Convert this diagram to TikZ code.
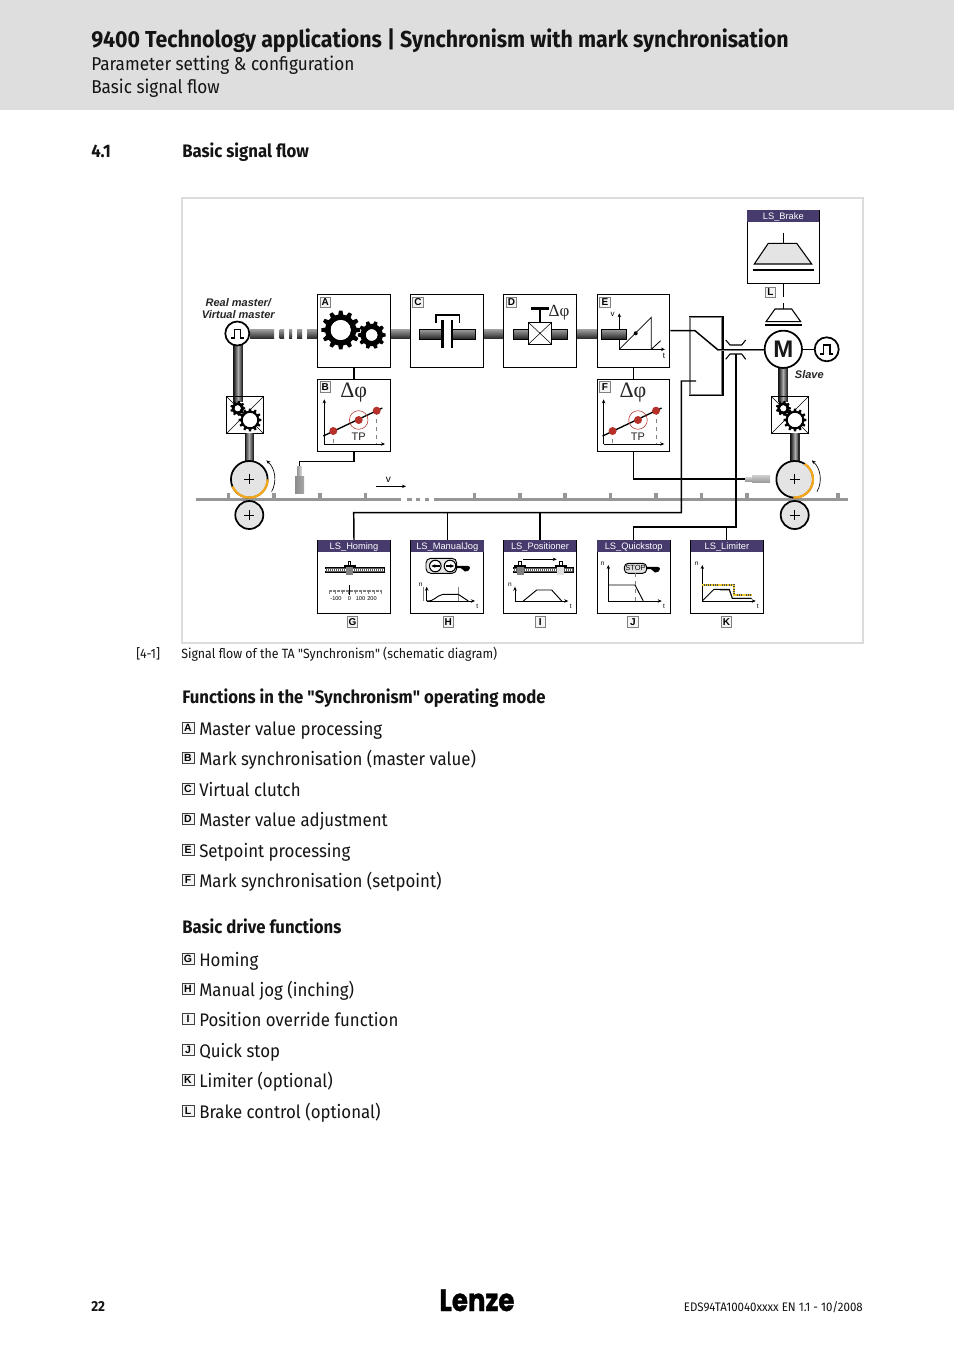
\documentclass[tikz,border=0pt]{standalone}
\usepackage{fontspec}
\setmainfont{Fira Sans}[FakeStretch=0.925]
\newfontfamily\qfont{Fira Sans}[FakeStretch=0.925]
\newfontfamily\arialf{Liberation Sans}
\newfontfamily\timesf{Liberation Serif}
\newfontfamily\logof{Poppins}[BoldFeatures={FakeStretch=0.84,FakeBold=1}]
\usetikzlibrary{arrows.meta,shapes.geometric,calc}
\definecolor{hdrgrey}{HTML}{DEDEDE}
\definecolor{framegrey}{HTML}{DCDCDC}
\definecolor{lspurple}{HTML}{473A6C}
\definecolor{reddot}{HTML}{B5312A}
\definecolor{orangearc}{HTML}{F5A81C}
\definecolor{limityellow}{HTML}{EBC62A}
\definecolor{beltgrey}{HTML}{969696}
\definecolor{wheelgrey}{HTML}{E4E4E4}
\newcommand\pxfont[1]{\fontsize{\dimexpr#1pt*3/4\relax}{\dimexpr#1pt*9/10\relax}\selectfont}
\newcommand\qq{{\qfont"}}
\tikzset{
  x=0.75pt,y=-0.75pt,
  >={Stealth[length=3pt,width=2.6pt]},
  blockbox/.style={draw=black,line width=0.8pt,fill=white,minimum width=54.6pt,minimum height=54.6pt,inner sep=0pt},
  lsbox/.style={blockbox},
  lshead/.style={fill=lspurple,text=white,font=\arialf\pxfont{9.3},minimum width=54.6pt,minimum height=8.9pt,inner sep=0pt,anchor=north,text height=6.5pt,text depth=1.6pt},
  letterbox/.style={draw=gray,line width=0.5pt,fill=gray!8,font=\arialf\bfseries\pxfont{10},minimum size=7.8pt,inner sep=0pt},
  listletter/.style={draw=black!75,line width=0.5pt,fill=gray!8,font=\arialf\bfseries\pxfont{10.5},minimum width=8.9pt,minimum height=8pt,inner sep=0pt,anchor=center},
  wire/.style={line width=1.1pt,black},
  thinwire/.style={line width=0.6pt,black},
  txt/.style={inner sep=0pt,anchor=base west,text=black!92},
  plainlist/.style={txt,font=\pxfont{18.2}},
  headline/.style={txt,font=\bfseries\pxfont{18.1}},
  wheel/.style={circle,draw=black,line width=1.3pt,fill=wheelgrey,inner sep=0pt},
  sign/.style={circle,draw=black,line width=1.3pt,fill=white,inner sep=0pt,minimum size=18pt},
  small/.style={inner sep=0pt,font=\arialf\pxfont{6.5}},
  axis/.style={line width=0.6pt,->},
  curve/.style={line width=0.7pt,black},
}
\newcommand\hshaft[3]{\shade[top color=gray!75,middle color=gray!20,bottom color=black!85] (#1,#3-4.7) rectangle (#2,#3+4.7);}
% vertical shaft drawn as strips: dark edges, light towards the centre
\newcommand\vshaft[4]{%
  \foreach \si in {0,...,9}{
    \pgfmathsetmacro\sk{min(92,abs(\si-5)*13+32)}
    \fill[black!\sk] ({#1-4.7+\si*0.94},#2) rectangle ({#1-4.7+\si*0.94+1.1},#3);
  }}
\newcommand\gearshape[5]{%
  \begin{scope}[shift={(#1,#2)}]
    \pgfmathsetmacro\gearstep{360/#5}
    \fill[black,even odd rule] ({-0.3*\gearstep}:{#3*0.8})
      \foreach \gi in {1,...,#5}{
        -- ({(\gi-1)*\gearstep-0.3*\gearstep}:{#3*0.8})
        -- ({(\gi-1)*\gearstep-0.17*\gearstep}:#3)
        -- ({(\gi-1)*\gearstep+0.17*\gearstep}:#3)
        -- ({(\gi-1)*\gearstep+0.3*\gearstep}:{#3*0.8})
      } -- cycle (0,0) circle (#4);
    \fill[white] (0,0) circle (#4);
  \end{scope}}
\newcommand\dphi[3]{\node[inner sep=0pt,text=black!85,font=\timesf\pxfont{#3}] at (#1,#2) {Δφ};}
\newcommand\tpgraph[1]{%
  \begin{scope}[xshift=#1*0.75pt]
    \draw[axis] (324.3,444) -- (324.3,399.3);
    \draw[axis] (324.3,444) -- (385,444);
    \draw[gray,dashed,line width=0.4pt] (333.3,431) -- (333.3,444);
    \draw[gray,dashed,line width=0.4pt] (376.7,411) -- (376.7,444);
    \draw[line width=1pt] (323.3,436) -- (382.3,408);
    \fill[reddot] (333.3,431) circle (4) (358.7,420) circle (4) (376.7,410.7) circle (4);
    \draw[reddot,line width=0.4pt] (358.7,420) circle (9.3);
    \node[inner sep=0pt,text=black!85,font=\arialf\pxfont{11}] at (358.7,436.5) {TP};
    \dphi{353.7}{392.5}{22}
  \end{scope}}
\newcommand\screw[3]{%
  \draw[line width=0.5pt,fill=black!65] (#1,#3-2.5) rectangle (#2,#3+2.5);
  \draw[white,line width=1pt,dash pattern=on 0.7pt off 0.8pt] (#1,#3) -- (#2,#3);}
\newcommand\carriage[3]{%
  \fill[#3] (#1-3.5,#2-4) rectangle (#1+3.5,#2+5);
  \draw[line width=0.5pt,fill=white] (#1-1.2,#2-9) rectangle (#1+1.2,#2-4);
  \draw[line width=1pt] (#1-6,#2-4) -- (#1+6,#2-4);}
\newcommand\handshape[2]{%
  \fill[black] (#1,#2-1) -- (#1+8,#2-1.2) to[out=0,in=90] (#1+14,#2+1) to[out=-90,in=0] (#1+9,#2+4.5) to[out=180,in=0] (#1+5,#2+1.2) -- (#1,#2+1) -- cycle;}
\begin{document}
\begin{tikzpicture}
\useasboundingbox (0,0) rectangle (954,1350);
\fill[white] (0,0) rectangle (954,1350);
% page header
\fill[hdrgrey] (0,0) rectangle (954,110);
\node[txt,font=\bfseries\pxfont{23.1}] (title) at (91,47) {9400 Technology applications | Synchronism with mark synchronisation};
\node[txt,font=\pxfont{18.6}] (sub1) at (91,70) {Parameter setting \& configuration};
\node[txt,font=\pxfont{18.6}] (sub2) at (91,93.5) {Basic signal flow};
\node[headline] (secnum) at (91,157.5) {4.1};
\node[headline] (sechead) at (182,157.5) {Basic signal flow};
% frame
\draw[framegrey,line width=1.5pt] (182,198) rectangle (863,643);
\node[inner sep=0pt,font=\arialf\bfseries\itshape\pxfont{11},text=black!85,align=center] (rm1) at (238.3,302.3) {Real master/};
\node[inner sep=0pt,font=\arialf\bfseries\itshape\pxfont{11},text=black!85,align=center] (rm2) at (238.3,314.3) {Virtual master};
% belt
\foreach \tx in {228.7,274,320,365.3,474.3,520,565,610.3,656,701.3,747,792.3,838}
  \fill[beltgrey] (\tx-1.6,493.3) rectangle (\tx+1.6,499);
\foreach \bx/\by in {196/400.7,406.7/411.7,416/420,425/429,434/848}
  \fill[beltgrey] (\bx,497.9) rectangle (\by,500.7);
% shafts
\hshaft{250}{274}{334}
\hshaft{279.5}{284}{334}
\hshaft{289}{292}{334}
\hshaft{297}{302}{334}
\hshaft{307}{317.3}{334}
\hshaft{390.7}{410}{334}
\hshaft{484}{503.3}{334}
\hshaft{576.7}{597.3}{334}
\vshaft{238}{345}{402}{0}
\vshaft{782.8}{368}{402}{0}
% blocks
\node[blockbox] (A) at (354,331) {};
\node[blockbox] (B) at (354,415.5) {};
\node[blockbox] (C) at (447,331) {};
\node[blockbox] (D) at (540,331) {};
\node[blockbox] (E) at (633.5,331) {};
\node[blockbox] (F) at (633.5,415.5) {};
\foreach \n/\lx/\ly in {A/325.3/302.2,B/325.3/387,C/418/302.2,D/511.5/302.2,E/605/302.2,F/605/387}
  \node[letterbox] (let\n) at (\lx,\ly) {\n};
% A gears
\gearshape{340.7}{330}{19.5}{10}{12}
\gearshape{371.7}{335}{14}{5.7}{10}
% B / F graphs
\tpgraph{0}
\tpgraph{279.3}
% C
\shade[top color=gray!75,middle color=gray!20,bottom color=black!85] (419.3,329.3) rectangle (475,339);
\draw[black,line width=0.4pt] (419.3,329.3) rectangle (475,339);
\fill[white] (444,318) rectangle (450.7,350);
\fill[black] (440.7,320) rectangle (444,348.3);
\fill[black] (450.7,320) rectangle (453.3,348.3);
\draw[line width=1.2pt] (435.7,323.3) -- (435.7,315) -- (459.3,315) -- (459.3,323.3);
% D
\shade[top color=gray!75,middle color=gray!20,bottom color=black!85] (513.3,329.3) rectangle (567.7,339);
\draw[black,line width=0.4pt] (513.3,329.3) rectangle (567.7,339);
\draw[line width=0.7pt,fill=white] (528.3,322.3) rectangle (551.7,344.3);
\draw[line width=0.4pt] (528.3,322.3) -- (551.7,344.3) (528.3,344.3) -- (551.7,322.3);
\draw[line width=0.8pt] (540,308) -- (540,322.3);
\draw[line width=1.6pt] (531,308.5) -- (549,308.5);
\dphi{559}{312.5}{17}
% E
\shade[top color=gray!75,middle color=gray!20,bottom color=black!85] (601.3,329.3) rectangle (626.7,339);
\draw[black,line width=0.4pt] (601.3,329.3) rectangle (626.7,339);
\draw[axis] (619.3,329.3) -- (619.3,313.3);
\draw[axis] (619.3,349.3) -- (665,349.3);
\draw[line width=0.6pt] (619.3,339) -- (619.3,349.3);
\draw[line width=0.6pt] (619.3,349.3) -- (651.3,317.3) -- (651.3,349.3);
\draw[line width=0.6pt] (651.3,349.3) -- (660.7,340.7);
\fill (635.7,333.3) circle (2);
\node[small,font=\arialf\pxfont{8}] (ev) at (612.7,314.3) {v};
\node[small,font=\arialf\pxfont{8}] (et) at (664,356) {t};
% master sign
\node[sign] (master) at (237.3,333.5) {};
\draw[line width=1.1pt] (231,338) -- (234.3,338) -- (234.3,329.3) -- (240.5,329.3) -- (240.5,338) -- (243.7,338);
% left gear box
\node[blockbox,minimum width=27.5pt,minimum height=27.5pt] (gbL) at (245,415) {};
\draw[line width=0.4pt] (gbL.north west) -- (gbL.south east) (gbL.south west) -- (gbL.north east);
\vshaft{238}{397}{402}{0}
\vshaft{249.3}{433}{462}{0}
\gearshape{237.7}{408.3}{7.5}{3}{9}
\gearshape{250}{420}{11.5}{7}{12}
% right gear box
\node[blockbox,minimum width=27.5pt,minimum height=27.5pt] (gbR) at (790,415) {};
\draw[line width=0.4pt] (gbR.north west) -- (gbR.south east) (gbR.south west) -- (gbR.north east);
\vshaft{782.8}{397}{402}{0}
\vshaft{794.7}{433}{462}{0}
\gearshape{783.3}{408.3}{7.5}{3}{9}
\gearshape{795}{420}{11.5}{7}{12}
% wheels
\node[wheel,minimum size=27.5pt] (wL) at (249.3,479.3) {};
\node[wheel,minimum size=21pt] (wL2) at (249.3,515) {};
\node[wheel,minimum size=27.5pt] (wR) at (794.7,479.3) {};
\node[wheel,minimum size=21pt] (wR2) at (794.7,515) {};
\foreach \wn in {wL,wL2,wR,wR2}
  \draw[line width=0.5pt] ($(\wn)+(-5,0)$) -- ($(\wn)+(5,0)$) ($(\wn)+(0,-5)$) -- ($(\wn)+(0,5)$);
\draw[orangearc,line width=1.7pt] ($(wL)+(0:18.3)$) arc[start angle=0,end angle=157,radius=18.3];
\draw[orangearc,line width=1.7pt] ($(wR)+(-57:18.3)$) arc[start angle=-57,end angle=94,radius=18.3];
\draw[->,line width=0.5pt] ($(wL)+(29:25.5)$) arc[start angle=29,end angle=-48,radius=25.5];
\draw[->,line width=0.5pt] ($(wR)+(29:25.5)$) arc[start angle=29,end angle=-48,radius=25.5];
% sensors
\shade[left color=gray!80,right color=gray!30] (297.3,466.7) rectangle (301.7,476.7);
\shade[left color=gray!90,middle color=gray!20,right color=gray!70] (295,476.7) rectangle (304,493);
\coordinate (sensL) at (299.5,466);
\shade[top color=gray!40,bottom color=gray!80] (745,477.5) rectangle (752,481);
\shade[top color=gray!40,bottom color=gray!80] (752,475.5) rectangle (770,482.5);
\coordinate (sensR) at (745,479);
\draw[wire] (B.south) -- ++(0,9.3) -| (sensL);
\draw[wire] (A.south) -- (B.north);
\draw[wire] (E.south) -- (F.north);
\draw[wire] (F.south) |- (sensR);
% v arrow
\draw[line width=0.5pt,->] (376,486.3) -- (406,486.3);
\node[small,font=\arialf\pxfont{10}] (vlab) at (388.3,480) {v};
% LS boxes
\node[lsbox] (G) at (354,576.7) {};
\node[lsbox] (H) at (447.3,576.7) {};
\node[lsbox] (I) at (540,576.7) {};
\node[lsbox] (J) at (633.7,576.7) {};
\node[lsbox] (K) at (726.9,576.7) {};
\foreach \n/\t in {G/LS\_Homing,H/LS\_ManualJog,I/LS\_Positioner,J/LS\_Quickstop,K/LS\_Limiter}
  \node[lshead] (head\n) at (\n.north) {\t};
\foreach \n/\lx in {G/352.5,H/448.3,I/540.3,J/633,K/726.5}
  \node[letterbox] (let\n) at (\lx,622) {\n};
% switch
\node[draw=gray,line width=1.7pt,minimum width=24pt,minimum height=58pt,inner sep=0pt] (sw) at (706,356) {};
\draw[line width=1pt] (sw.north west) -- (sw.north east) -- (sw.south east) -- (sw.south west);
\coordinate (swin) at (695,330.7);
\coordinate (swpole) at (717.3,349.3);
\coordinate (swref) at (696,381);
\node[sign,minimum size=28pt,line width=1.3pt] (M) at (783.3,349.3) {};
\node[inner sep=0pt,font=\arialf\bfseries\pxfont{24},text=black!90] (Mtext) at (783.3,349.3) {M};
\node[sign] (enc) at (826.7,349.3) {};
\draw[line width=1.1pt] (820.4,354) -- (823.7,354) -- (823.7,345.2) -- (829.9,345.2) -- (829.9,354) -- (833,354);
\draw[wire] (E.east |- swin) -- (swin) -- (swpole);
\draw[gray,line width=1pt] ($(swpole)+(0,0.8)$) -- ($(M.west)+(0,0.8)$);
\draw[line width=0.5pt] ($(swpole)+(0,-0.3)$) -- ($(M.west)+(0,-0.3)$);
\draw[line width=0.6pt] (M) -- (enc);
\draw[line width=0.8pt] (725.7,340) -- (730,345) -- (741.7,345) -- (745.7,340);
\draw[line width=0.8pt] (725.7,359.3) -- (730,354) -- (741.7,354) -- (745.7,359.3);
\coordinate (lim) at (736,354);
\draw[wire] (G.north) -- (353.7,512.7) -- (681.3,512.7) -- (681.3,381) -- (swref);
\draw[wire] (H.north) -- (447.3,512.7);
\draw[wire] (I.north) -- (540,512.7);
\draw[wire] (J.north) -- (633.7,527) -- (736,527) -- (lim);
\draw[thinwire] (K.north -| 726.7,0) -- (726.7,527);
\node[inner sep=0pt,font=\arialf\bfseries\itshape\pxfont{11},text=black!85] (slave) at (809.3,374.3) {Slave};
% brake
\node[blockbox,minimum width=54pt,minimum height=55pt] (brk) at (783.3,246.7) {};
\node[lshead,minimum width=54pt,minimum height=9.4pt] (brkh) at (brk.north) {LS\_Brake};
\draw[line width=0.8pt] (783.3,233) -- (783.3,243.3);
\draw[line width=0.8pt,fill=wheelgrey] (768.3,243.3) -- (796.7,243.3) -- (811.7,264) -- (754.3,264) -- cycle;
\draw[line width=1pt] (752.7,270) -- (814,270);
\node[letterbox] (letL) at (770.5,292.5) {L};
\node[inner sep=0pt,minimum size=0pt] (smallbrk) at (783.3,309) {};
\draw[line width=1pt] (brk.south) -- (783.3,296.7);
\draw[line width=1pt] (783.3,303) -- (smallbrk);
\draw[line width=0.8pt,fill=white] (775,309) -- (791.7,309) -- (800.7,321.7) -- (766,321.7) -- cycle;
\draw[line width=0.9pt] (765,325) -- (802,325);
% G contents
\screw{325}{384}{570}
\carriage{349.5}{570}{gray}
\foreach \i in {0,...,40}
  \draw[gray,line width=0.25pt] (329+\i*1.3,590) -- (329+\i*1.3,{mod(\i,5)==0?594:592});
\draw[line width=0.6pt] (349.5,585) -- (349.5,595);
\node[small,font=\arialf\pxfont{5.6}] at (336,598.5) {-100};
\node[small,font=\arialf\pxfont{5.6}] at (349.5,598.5) {0};
\node[small,font=\arialf\pxfont{5.6}] at (360.5,598.5) {100};
\node[small,font=\arialf\pxfont{5.6}] at (372,598.5) {200};
% H contents
\draw[line width=0.7pt,fill=gray!20,rounded corners=3.5pt] (426,558.3) rectangle (456.7,573.3);
\foreach \cx/\ax/\bx in {435.3/439.5/431.3,450/445.8/454.2}{
  \draw[line width=0.8pt,fill=white] (\cx,566) circle (5.8);
  \draw[line width=0.9pt,->] (\ax,566) -- (\bx,566);}
\handshape{456}{567}
\draw[axis] (426.7,601) -- (426.7,586.7);
\draw[axis] (426.7,601) -- (475,601);
\draw[gray,line width=0.3pt] (423,586.7) -- (423,601) (458.3,586.7) -- (458.3,601);
\draw[curve] (426.7,601) to[out=-10,in=190] (443,594.3) -- (458.3,594.3) -- (468.3,601);
\node[small] at (420.7,585) {n};
\node[small] at (477.3,606) {t};
% I contents
\screw{513.3}{573.3}{570}
\carriage{520}{570}{gray}
\carriage{560.7}{570}{gray!25}
\draw[line width=0.5pt,->] (523.3,559.3) -- (556.7,559.3);
\draw[axis] (515,601) -- (515,586.7);
\draw[axis] (515,601) -- (568.3,601);
\draw[curve] (523.3,601) -- (536.7,590) -- (551.7,590) -- (561.7,601);
\node[small] at (510,585) {n};
\node[small] at (570.7,606) {t};
% J contents
\draw[line width=0.7pt,fill=gray!25,rounded corners=3pt] (624.3,563.3) rectangle (646.7,573.3);
\node[small,font=\arialf\pxfont{7.5}] (stoptxt) at (635.5,568.4) {STOP};
\handshape{646}{568}
\draw[axis] (608.3,601) -- (608.3,565);
\draw[axis] (608.3,601) -- (661.7,601);
\draw[curve] (608.3,585) -- (635,585) -- (643.3,601);
\draw[gray,dashed,line width=0.3pt] (635,573.3) -- (635,601);
\node[small] at (602.7,563.3) {n};
\node[small] at (664,606) {t};
% K contents
\draw[axis] (702.3,601) -- (702.3,565);
\draw[axis] (702.3,601) -- (755.7,601);
\draw[black!70,line width=1.2pt] (702.3,585) -- (734,585) -- (734,595) -- (751.7,595);
\draw[limityellow,line width=1.2pt,dash pattern=on 1pt off 0.7pt] (702.3,585) -- (734,585) -- (734,595) -- (751.7,595);
\draw[gray,line width=0.8pt] (720,590) -- (729.3,590) -- (732.3,598.3) -- (751.7,598.3);
\draw[curve] (702.3,601) -- (714,589.3) -- (729.3,589.3) -- (732.3,598.3) -- (751.7,598.3);
\node[small] at (696.7,563.3) {n};
\node[small] at (757.7,606) {t};
% caption
\node[txt,font=\pxfont{13.4}] (capn) at (136,658.5) {[4-1]};
\node[txt,font=\pxfont{13.4}] (cap) at (181,658.5) {Signal flow of the TA \qq Synchronism\qq{} (schematic diagram)};
% lists
\node[headline] (h1) at (182,703.5) {Functions in the \qq Synchronism\qq{} operating mode};
\foreach \l/\yy/\t in {A/735/Master value processing,B/765/Mark synchronisation (master value),C/796/Virtual clutch,D/826/Master value adjustment,E/857/Setpoint processing,F/887/Mark synchronisation (setpoint),G/966/Homing,H/996/Manual jog (inching),I/1026/Position override function,J/1057/Quick stop,K/1087/Limiter (optional),L/1118/Brake control (optional)}{
  \node[listletter] (li\l) at (188,\yy-7) {\l};
  \node[plainlist] (lt\l) at (199,\yy) {\t};
}
\node[headline] (h2) at (182,933.5) {Basic drive functions};
% footer
\node[txt,font=\bfseries\pxfont{14.5}] (pg) at (91,1311) {22};
\node[inner sep=0pt,anchor=base,font=\logof\bfseries\pxfont{31}] (logo) at (477,1311) {Lenze};
\node[inner sep=0pt,anchor=base east,text=black!92,font=\pxfont{12.4}] (doc) at (863,1311) {EDS94TA10040xxxx EN 1.1 - 10/2008};
\end{tikzpicture}
\end{document}
